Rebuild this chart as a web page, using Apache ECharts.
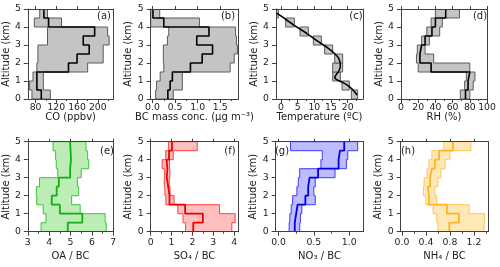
<!DOCTYPE html>
<html><head><meta charset="utf-8">
<script src="https://cdn.jsdelivr.net/npm/echarts@6/dist/echarts.min.js"></script>
<style>html,body{margin:0;padding:0;background:#fff}#c{width:500px;height:267px}</style>
</head><body><div id="c"></div>
<script>
// Altitude bins (lower edges, km) and bin height
const altLo = [0, 0.5, 1, 1.5, 2, 2.5, 3, 3.5, 4, 4.5];
const BIN = 0.5;

// (a) CO (ppbv)
const coLow  = [73, 68, 75, 82.5, 84.5, 84.5, 103, 103, 77.5, 88];
const coMed  = [91, 82.5, 82.5, 143.5, 160, 183.5, 172, 194, 105, 96];
const coHigh = [108.5, 95, 95, 180.5, 210.5, 210.5, 222, 219, 130, 103];
const coTicks = [80, 120, 160, 200];
const coMinor = [100, 140, 180, 220];

// (b) BC mass conc.
const bcLow  = [0.07, 0.09, 0.17, 0.25, 0.24, 0.24, 0.33, 0.36, -0.04, -0.04];
const bcMed  = [0.34, 0.39, 0.44, 0.84, 1.10, 1.33, 0.98, 1.25, 0.25, 0.01];
const bcHigh = [0.46, 0.66, 0.66, 1.72, 1.81, 1.88, 1.86, 1.84, 1.04, 0.16];
const bcTicks = [0, 0.5, 1.0, 1.5];
const bcMinor = [0.25, 0.75, 1.25, 1.75];

// (c) Temperature
const tBoxLow  = [21.1, 18.3, 15.5, 15.5, 16.1, 13.1, 9.7, 5.7, 1.4, -1.5];
const tBoxHigh = [23.0, 20.5, 17.8, 18.5, 18.5, 15.5, 12.1, 8.2, 4.0, -0.8];
const tLineT   = [22.8, 21.8, 20.3, 18.3, 16.8, 16.1, 16.3, 17.5, 17.8, 17.3, 15.8, 13.8, 10.75, 7.7, 4.2, 1.4, -1.5];
const tLineAlt = [0.22, 0.46, 0.72, 0.94, 1.06, 1.19, 1.28, 1.61, 1.89, 2.26, 2.57, 2.87, 3.24, 3.65, 4.06, 4.43, 4.8];
const tTicks = [0, 5, 10, 15, 20];
const tMinor = [2.5, 7.5, 12.5, 17.5, 22.5];

// (d) RH (%)
const rhLow  = [69, 74, 76, 20, 18, 19, 24, 30, 35, 40];
const rhMed  = [75, 78, 80, 35, 22, 24, 28, 36, 40, 52];
const rhHigh = [80, 84, 86, 80, 38, 28, 33, 45, 48, 68];
const rhTicks = [0, 20, 40, 60, 80, 100];
const rhMinor = [10, 30, 50, 70, 90];

// (e) OA / BC
const oaLow  = [3.62, 3.85, 3.72, 3.42, 3.40, 3.55, 4.40, 4.33, 4.30, 4.18];
const oaMed  = [4.87, 5.55, 4.50, 4.12, 4.35, 4.45, 4.98, 5.02, 5.00, 4.98];
const oaHigh = [6.67, 6.62, 5.45, 5.05, 5.38, 5.32, 5.50, 5.85, 5.80, 5.72];
const oaTicks = [3, 4, 5, 6, 7];
const oaMinor = [3.5, 4.5, 5.5, 6.5];

// (f) SO4 / BC
const soLow  = [1.67, 1.55, 1.30, 0.73, 0.68, 0.65, 0.67, 0.55, 0.72, 0.86];
const soMed  = [2.04, 2.50, 1.65, 0.90, 0.84, 0.77, 0.80, 0.76, 0.88, 1.02];
const soHigh = [3.89, 4.05, 3.30, 1.12, 0.93, 0.89, 0.92, 0.90, 1.08, 2.23];
const soTicks = [0, 1, 2, 3, 4];
const soMinor = [0.5, 1.5, 2.5, 3.5];

// (g) NO3 / BC
const noLow  = [0.15, 0.16, 0.18, 0.20, 0.26, 0.28, 0.30, 0.60, 0.62, 0.17];
const noMed  = [0.23, 0.25, 0.27, 0.38, 0.42, 0.44, 0.56, 0.85, 0.87, 0.93];
const noHigh = [0.30, 0.31, 0.33, 0.52, 0.50, 0.52, 0.80, 0.96, 0.98, 1.12];
const noTicks = [0, 0.5, 1.0];
const noMinor = [0.25, 0.75];

// (h) NH4 / BC
const nhLow  = [0.60, 0.58, 0.52, 0.40, 0.36, 0.37, 0.42, 0.45, 0.50, 0.70];
const nhMed  = [0.79, 0.95, 0.75, 0.45, 0.43, 0.47, 0.50, 0.55, 0.62, 0.85];
const nhHigh = [1.37, 1.38, 1.12, 0.58, 0.55, 0.60, 0.65, 0.72, 0.80, 1.15];
const nhTicks = [0, 0.4, 0.8, 1.2];
const nhMinor = [0.2, 0.6, 1.0, 1.4];

const themes = {
  gray:   {fill:'#c4c4c4', stroke:'#5c5c5c', med:'#000000', mw:1.6},
  green:  {fill:'#bcedb4', stroke:'#3cc43c', med:'#12b012', mw:1.8},
  red:    {fill:'#ffbfbf', stroke:'#ff4040', med:'#ee0000', mw:1.8},
  blue:   {fill:'#bcbcff', stroke:'#3c3cff', med:'#0000e0', mw:1.8},
  orange: {fill:'#ffe8b8', stroke:'#ffc65a', med:'#ffb424', mw:1.8}
};

const FONT = 'DejaVu Sans';
const panels = [
  {tag:'(a)', left:27.3, top:9, w:86, min:65, max:230, major:coTicks, minor:coMinor, dec:0, name:'CO (ppbv)', low:coLow, med:coMed, high:coHigh, theme:'gray', lp:[104,16.5], row:0},
  {tag:'(b)', left:150.7, top:9, w:87.6, min:-0.04, max:1.9, major:bcTicks, minor:bcMinor, dec:1, name:'BC mass conc. (μg m⁻³)', low:bcLow, med:bcMed, high:bcHigh, theme:'gray', lp:[228,16.5], row:0},
  {tag:'(c)', left:276, top:9, w:87, min:-1.5, max:24.6, major:tTicks, minor:tMinor, dec:0, name:'Temperature (ºC)', theme:'gray', temp:true, lp:[356,16.5], row:0},
  {tag:'(d)', left:401, top:9, w:86, min:0, max:100, major:rhTicks, minor:rhMinor, dec:0, name:'RH (%)', low:rhLow, med:rhMed, high:rhHigh, theme:'gray', lp:[480,16.5], row:0},
  {tag:'(e)', left:26, top:141.7, w:87.3, min:3, max:7, major:oaTicks, minor:oaMinor, dec:0, name:'OA / BC', low:oaLow, med:oaMed, high:oaHigh, theme:'green', lp:[107,151.5], row:1},
  {tag:'(f)', left:150.7, top:141.7, w:87.6, min:0, max:4.2, major:soTicks, minor:soMinor, dec:0, name:'SO₄ / BC', low:soLow, med:soMed, high:soHigh, theme:'red', lp:[230,151.5], row:1},
  {tag:'(g)', left:275.7, top:141.7, w:87.6, min:-0.04, max:1.2, major:noTicks, minor:noMinor, dec:1, name:'NO₃ / BC', low:noLow, med:noMed, high:noHigh, theme:'blue', lp:[282,151.5], row:1},
  {tag:'(h)', left:400.7, top:141.7, w:87.6, min:-0.02, max:1.44, major:nhTicks, minor:nhMinor, dec:1, name:'NH₄ / BC', low:nhLow, med:nhMed, high:nhHigh, theme:'orange', lp:[408,151.5], row:1}
];

function stepPts(vals) {
  const p = [];
  vals.forEach((v, i) => { p.push([v, altLo[i]]); p.push([v, altLo[i] + BIN]); });
  return p;
}

const AX = '#404040';
const option = {animation:false, grid:[], xAxis:[], yAxis:[], series:[], graphic:[]};

panels.forEach((p, gi) => {
  const th = themes[p.theme];
  option.grid.push({left:p.left, top:p.top, width:p.w, height:90});
  const xi = option.xAxis.length, yi = option.yAxis.length;
  const base = {type:'value', gridIndex:gi, min:p.min, max:p.max, splitLine:{show:false}, z:6};
  const lbl = {fontSize:9.3, color:'#222', fontFamily:FONT};
  option.xAxis.push(Object.assign({}, base, {
    position:'bottom', name:p.name, nameLocation:'middle', nameGap: p.row ? 20 : 13.5,
    nameTextStyle:{fontSize:10, color:'#222', fontFamily:FONT},
    axisLine:{show:true, onZero:false, lineStyle:{color:AX, width:1}},
    axisTick:{show:true, length:4, customValues:p.major, lineStyle:{color:AX}},
    axisLabel:Object.assign({customValues:p.major, margin: p.row ? 6 : 4, formatter:(v)=>Number(v).toFixed(p.dec)}, lbl)
  }));
  option.xAxis.push(Object.assign({}, base, {
    position:'bottom', axisLine:{show:false, onZero:false},
    axisTick:{show:true, length:2, customValues:p.minor, lineStyle:{color:AX}},
    axisLabel:{show:false}
  }));
  option.xAxis.push(Object.assign({}, base, {
    position:'top', axisLine:{show:true, onZero:false, lineStyle:{color:AX, width:1}},
    axisTick:{show:true, length:3, customValues:p.major, lineStyle:{color:AX}},
    axisLabel:{show:false}
  }));
  option.yAxis.push({
    type:'value', gridIndex:gi, min:0, max:5, interval:1, position:'left', z:6,
    name:'Altitude (km)', nameLocation:'middle', nameGap:14,
    nameTextStyle:{fontSize:10, color:'#222', fontFamily:FONT},
    splitLine:{show:false},
    axisLine:{show:true, onZero:false, lineStyle:{color:AX, width:1}},
    axisTick:{show:true, length:4, lineStyle:{color:AX}},
    axisLabel:Object.assign({margin:7}, lbl)
  });
  option.yAxis.push({
    type:'value', gridIndex:gi, min:0, max:5, interval:1, position:'right', z:6,
    splitLine:{show:false},
    axisLine:{show:true, onZero:false, lineStyle:{color:AX, width:1}},
    axisTick:{show:false}, axisLabel:{show:false}
  });

  if (p.temp) {
    option.series.push({
      type:'custom', xAxisIndex:xi, yAxisIndex:yi, silent:true, clip:true,
      encode:{x:[0,1], y:2},
      data: tBoxLow.map((l, i) => [l, tBoxHigh[i], altLo[i]]),
      renderItem: function (params, api) {
        const a = api.coord([api.value(0), api.value(2) + BIN]);
        const b = api.coord([api.value(1), api.value(2)]);
        return {type:'rect', shape:{x:a[0], y:a[1], width:b[0]-a[0], height:b[1]-a[1]},
                style:{fill:th.fill, stroke:th.stroke, lineWidth:1}};
      }
    });
    option.series.push({
      type:'line', xAxisIndex:xi, yAxisIndex:yi, symbol:'none', smooth:0.35, silent:true,
      data: tLineT.map((t, i) => [t, tLineAlt[i]]),
      lineStyle:{color:th.med, width:th.mw}, z:4
    });
  } else {
    const low = p.low, high = p.high;
    option.series.push({
      type:'custom', xAxisIndex:xi, yAxisIndex:yi, silent:true, clip:true,
      encode:{x:0, y:1},
      data: [[low[0], altLo[0]]],
      renderItem: function (params, api) {
        const pts = [];
        stepPts(low).forEach(q => pts.push(api.coord(q)));
        stepPts(high).reverse().forEach(q => pts.push(api.coord(q)));
        return {type:'polygon', shape:{points:pts}, style:{fill:th.fill, stroke:th.stroke, lineWidth:1}};
      }
    });
    option.series.push({
      type:'line', xAxisIndex:xi, yAxisIndex:yi, symbol:'none', silent:true,
      data: stepPts(p.med), lineStyle:{color:th.med, width:th.mw}, z:4
    });
  }
  option.graphic.push({type:'text', x:p.lp[0], y:p.lp[1], z:10,
    style:{text:p.tag, fill:'#222', font:'10px "DejaVu Sans"', align:'center', verticalAlign:'middle'}});
});

const chart = echarts.init(document.getElementById('c'), null, {renderer:'canvas'});
chart.setOption(option);
</script></body></html>
